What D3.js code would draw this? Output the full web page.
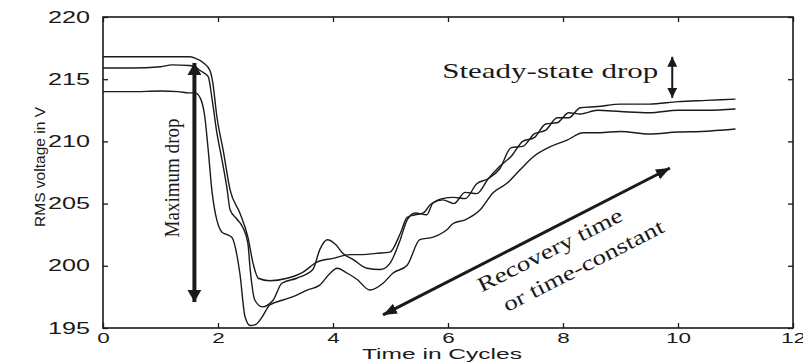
<!DOCTYPE html>
<html>
<head>
<meta charset="utf-8">
<script src="https://cdn.jsdelivr.net/npm/d3@7"></script>
<style>
  body { margin: 0; background: #fff; }
  svg { display: block; }
</style>
</head>
<body>
<div id="chart"></div>
<script>
// axis settings
var xTicks = [0, 2, 4, 6, 8, 10, 12],
    yTicks = [195, 200, 205, 210, 215, 220];

// curve 1: starts at 214 V, deepest sag
var t1 = [0, 0.5, 1.0, 1.3, 1.5, 1.6, 1.69, 1.77, 1.83, 1.90, 2.07, 2.16, 2.24, 2.38, 2.47, 2.56, 2.66, 2.77, 2.90, 3.13, 3.35, 3.55, 3.77, 3.95, 4.07, 4.25, 4.42, 4.64, 4.87, 5.04, 5.29, 5.51, 5.74, 5.98, 6.09, 6.3, 6.56, 6.78, 7.03, 7.25, 7.48, 7.77, 8.07, 8.35, 8.64, 9.0, 9.5, 10.0, 10.4, 11.0];
var v1 = [214.0, 214.0, 214.05, 214.0, 213.9, 213.9, 213.5, 212.0, 209.3, 205.8, 202.7, 202.5, 202.3, 199.4, 195.9, 195.2, 195.3, 195.9, 196.85, 197.25, 197.6, 198.05, 198.45, 199.4, 199.8, 199.4, 198.9, 198.05, 198.6, 199.4, 200.05, 202.1, 202.3, 202.9, 203.4, 203.7, 204.5, 205.85, 206.65, 207.7, 208.75, 209.55, 210.1, 210.7, 210.7, 210.8, 210.6, 210.75, 210.8, 211.0];

// curve 2: starts at 216 V, bump near 4 cycles
var t2 = [0, 0.5, 1.0, 1.2, 1.5, 1.6, 1.69, 1.83, 1.90, 1.98, 2.07, 2.16, 2.21, 2.32, 2.43, 2.52, 2.56, 2.64, 2.77, 2.96, 3.11, 3.37, 3.65, 3.77, 3.90, 4.05, 4.17, 4.35, 4.59, 4.82, 4.99, 5.17, 5.29, 5.43, 5.63, 5.74, 5.91, 6.1, 6.3, 6.5, 6.7, 6.9, 7.1, 7.3, 7.5, 7.7, 7.9, 8.1, 8.3, 8.6, 9.0, 9.5, 10.0, 10.5, 11.0];
var v2 = [215.9, 215.9, 216.0, 216.15, 216.1, 216.0, 215.7, 215.2, 213.3, 210.7, 208.5, 206.1, 204.5, 203.8, 203.1, 201.8, 199.7, 197.25, 196.7, 197.25, 198.6, 199.0, 199.7, 201.3, 202.1, 201.7, 201.0, 200.5, 199.8, 199.7, 200.2, 202.1, 203.7, 204.25, 204.1, 205.05, 205.3, 205.0, 205.9, 205.8, 207.0, 208.0, 208.8, 210.0, 210.3, 211.4, 211.5, 212.3, 212.2, 212.5, 212.4, 212.3, 212.5, 212.5, 212.6];

// curve 3: starts at 216.8 V, shallowest sag
var t3 = [0, 0.5, 1.0, 1.5, 1.6, 1.75, 1.86, 1.91, 1.98, 2.09, 2.21, 2.38, 2.52, 2.61, 2.70, 2.90, 3.20, 3.48, 3.72, 4.0, 4.30, 4.52, 4.75, 4.99, 5.17, 5.29, 5.43, 5.57, 5.69, 5.9, 6.1, 6.3, 6.5, 6.7, 6.9, 7.1, 7.3, 7.5, 7.7, 7.9, 8.1, 8.3, 8.6, 9.0, 9.5, 10.0, 10.5, 11.0];
var v3 = [216.8, 216.8, 216.8, 216.8, 216.7, 216.3, 215.7, 214.7, 212.0, 209.3, 206.1, 204.25, 202.3, 200.2, 199.0, 198.8, 199.0, 199.5, 200.3, 200.6, 200.9, 200.9, 201.0, 201.1, 202.6, 203.9, 204.1, 204.25, 204.9, 205.4, 205.5, 205.4, 206.6, 207.0, 207.8, 209.5, 209.6, 210.6, 210.9, 211.9, 211.9, 212.7, 212.8, 213.0, 213.0, 213.2, 213.3, 213.4];

// annotation arrows, in data units: [t0, v0, t1, v1]
var maxDropArrow = [1.59, 216.3, 1.59, 197.1],
    recoveryArrow = [4.87, 196.05, 9.86, 207.86],
    steadyArrow = [9.9, 216.8, 9.9, 213.5];

var m = {t:17, r:10, b:35, l:103},
    W = 803, H = 363,
    w = W - m.l - m.r,
    h = H - m.t - m.b;

var svg = d3.select("#chart")
  .append("svg")
  .attr("width", W)
  .attr("height", H);

var g = svg.append("g")
  .attr("transform", "translate(" + m.l + "," + m.t + ")");

var x = d3.scaleLinear().domain([0, 12]).range([0, w]);
var y = d3.scaleLinear().domain([195, 220]).range([h, 0]);

var ink = "#1a1a1a";

// arrow heads
var defs = svg.append("defs");
function addHead(id, len, wid){
  defs.append("marker")
    .attr("id", id)
    .attr("viewBox", "0 0 " + len + " " + wid)
    .attr("refX", len)
    .attr("refY", wid/2)
    .attr("markerUnits", "userSpaceOnUse")
    .attr("markerWidth", len)
    .attr("markerHeight", wid)
    .attr("orient", "auto-start-reverse")
    .append("path")
    .attr("d", "M0,0L" + len + "," + (wid/2) + "L0," + wid + "Z")
    .attr("fill", ink);
}
addHead("headBig", 12, 14);
addHead("headMid", 14, 11);
addHead("headSmall", 10, 10);

// axes (ticks pointing inward)
var fmt = d3.format("d");
var xAxis = g.append("g")
  .attr("transform", "translate(0," + h + ")")
  .call(d3.axisBottom(x).tickValues(xTicks).tickSize(-5).tickPadding(4).tickFormat(fmt));
var yAxis = g.append("g")
  .call(d3.axisLeft(y).tickValues(yTicks).tickSize(-5).tickPadding(13).tickFormat(fmt));
g.append("g")
  .call(d3.axisTop(x).tickValues(xTicks).tickSize(-5).tickFormat(""));
g.append("g")
  .attr("transform", "translate(" + w + ",0)")
  .call(d3.axisRight(y).tickValues(yTicks).tickSize(-5).tickFormat(""));

g.selectAll(".domain").remove();
g.selectAll(".tick line").attr("stroke", ink).attr("stroke-width", 1.3);

xAxis.selectAll("text")
  .attr("font-family", "Liberation Sans, Arial, sans-serif")
  .attr("font-size", 15)
  .attr("fill", ink)
  .attr("textLength", function(d){ return String(d).length * 12.5; })
  .attr("lengthAdjust", "spacingAndGlyphs");

yAxis.selectAll("text")
  .attr("font-family", "Liberation Sans, Arial, sans-serif")
  .attr("font-size", 16)
  .attr("fill", ink)
  .attr("textLength", 42)
  .attr("lengthAdjust", "spacingAndGlyphs");

// frame
g.append("rect")
  .attr("width", w)
  .attr("height", h)
  .attr("fill", "none")
  .attr("stroke", ink)
  .attr("stroke-width", 1.6);

// axis titles
svg.append("text")
  .attr("x", m.l + x(6) - 6)
  .attr("y", H - 4)
  .attr("text-anchor", "middle")
  .attr("font-family", "Liberation Sans, Arial, sans-serif")
  .attr("font-size", 15)
  .attr("fill", ink)
  .attr("textLength", 160)
  .attr("lengthAdjust", "spacingAndGlyphs")
  .text("Time in Cycles");

svg.append("text")
  .attr("transform", "translate(45," + (m.t + 150) + ") rotate(-90)")
  .attr("text-anchor", "middle")
  .attr("font-family", "Liberation Sans, Arial, sans-serif")
  .attr("font-size", 15)
  .attr("fill", ink)
  .attr("textLength", 120)
  .attr("lengthAdjust", "spacingAndGlyphs")
  .text("RMS voltage in V");

// curves
var line = d3.line()
  .x(function(d){ return x(d[0]); })
  .y(function(d){ return y(d[1]); })
  .curve(d3.curveMonotoneX);

var curves = [d3.zip(t1, v1), d3.zip(t2, v2), d3.zip(t3, v3)];

g.selectAll(".curve")
  .data(curves)
  .enter()
  .append("path")
  .attr("class", "curve")
  .attr("d", line)
  .attr("fill", "none")
  .attr("stroke", ink)
  .attr("stroke-width", 1.4)
  .attr("stroke-linejoin", "round");

// arrows
function arrow(a, width, head){
  g.append("line")
    .attr("x1", x(a[0])).attr("y1", y(a[1]))
    .attr("x2", x(a[2])).attr("y2", y(a[3]))
    .attr("stroke", ink)
    .attr("stroke-width", width)
    .attr("marker-start", "url(#" + head + ")")
    .attr("marker-end", "url(#" + head + ")");
}
arrow(maxDropArrow, 4, "headBig");
arrow(recoveryArrow, 3, "headMid");
arrow(steadyArrow, 2, "headSmall");

// annotation text
var serif = "Liberation Serif, Times New Roman, serif";

g.append("text")
  .attr("transform", "translate(" + (x(1.59) - 15) + "," + y(207.06) + ") rotate(-90)")
  .attr("text-anchor", "middle")
  .attr("font-family", serif)
  .attr("font-size", 21)
  .attr("fill", ink)
  .attr("textLength", 119)
  .attr("lengthAdjust", "spacingAndGlyphs")
  .text("Maximum drop");

g.append("text")
  .attr("x", x(5.9))
  .attr("y", y(215.1))
  .attr("font-family", serif)
  .attr("font-size", 22)
  .attr("fill", ink)
  .attr("textLength", 216)
  .attr("lengthAdjust", "spacingAndGlyphs")
  .text("Steady-state drop");

var ang = -27;
g.append("text")
  .attr("transform", "translate(" + x(7.77) + "," + y(201.3) + ") rotate(" + ang + ")")
  .attr("text-anchor", "middle")
  .attr("dy", "0.35em")
  .attr("font-family", serif)
  .attr("font-size", 21)
  .attr("fill", ink)
  .attr("textLength", 160)
  .attr("lengthAdjust", "spacingAndGlyphs")
  .text("Recovery time");

g.append("text")
  .attr("transform", "translate(" + x(8.35) + "," + y(200.05) + ") rotate(" + ang + ")")
  .attr("text-anchor", "middle")
  .attr("dy", "0.35em")
  .attr("font-family", serif)
  .attr("font-size", 21)
  .attr("fill", ink)
  .attr("textLength", 178)
  .attr("lengthAdjust", "spacingAndGlyphs")
  .text("or time-constant");
</script>
</body>
</html>
